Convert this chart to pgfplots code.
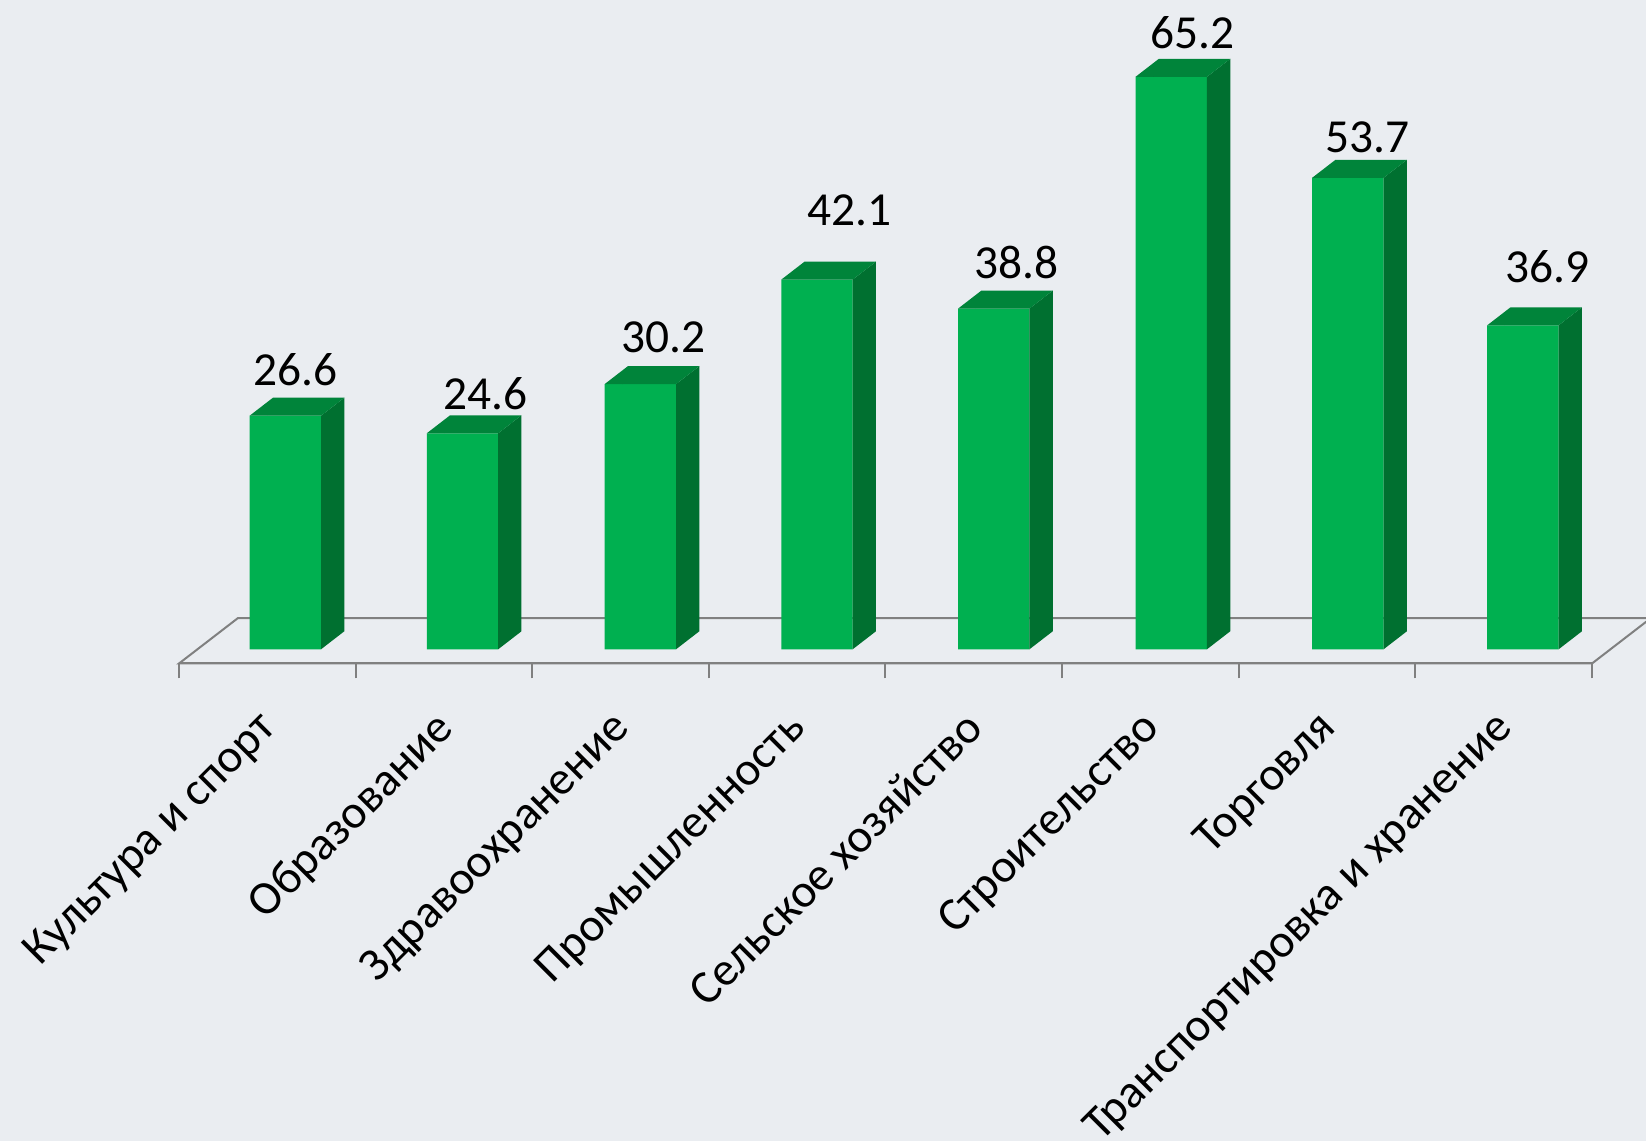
\documentclass[border=0pt]{standalone}
\usepackage{fontspec}
\setmainfont{Carlito}
\usepackage{pgfplots}
\usepackage{pgfplotstable}
\pgfplotsset{compat=1.18}
\definecolor{bgc}{HTML}{EAEDF1}
\definecolor{frontc}{HTML}{00B050}
\definecolor{sidec}{HTML}{007030}
\definecolor{topc}{HTML}{00843A}
\definecolor{linec}{HTML}{808080}
\pgfplotstableread{
x xb y lx ly
0 0.000 26.6 13.9 23.0
1 1.003 24.6 21.0 19.8
2 2.010 30.2 21.4 23.5
3 3.010 42.1 26.0 34.9
4 4.011 38.8 21.5 23.0
5 5.016 65.2 21.0 22.0
6 6.016 53.7 20.0 20.1
7 7.007 36.9 22.0 29.3
}\datatable
\begin{document}
\begin{tikzpicture}[x=1pt,y=1pt]
\path[use as bounding box] (0,0) rectangle (823,570.5);
\clip (0,0) rectangle (823,570.5);
\fill[bgc] (0,0) rectangle (823,570.5);
\begin{axis}[
  at={(89.5pt,238.75pt)}, anchor=south west,
  scale only axis, width=706.5pt, height=331.75pt,
  xmin=-0.5, xmax=7.5, ymin=-1.617, ymax=73.95,
  clip=false,
  axis x line*=bottom, axis y line=none,
  axis line style={linec, line width=1pt, -},
  xtick={-0.5,0.5,1.5,2.5,3.5,4.5,5.5,6.5,7.5},
  xticklabels={},
  tick align=outside, major tick length=7.5pt,
  tick style={linec, line width=1pt},
  extra x ticks={0,1,2,3,4,5,6,7},
  extra x tick labels={Культура и спорт,Образование,Здравоохранение,Промышленность,Сельское хозяйство,Строительство,Торговля,Транспортировка и хранение},
  extra x tick style={major tick length=0pt, tick style={draw=none},
    ticklabel style={rotate=45, anchor=north east, inner sep=0pt, font=\fontsize{23.6}{26}\selectfont, text=black, xshift=-19.6pt, yshift=-11.75pt}},
]
% floor
\addplot[fill=none, draw=linec, line width=1pt] coordinates {(-0.5,-1.617) (-0.166,3.56) (7.834,3.56) (7.5,-1.617)} -- cycle;
% side and top faces
\addplot[draw=none, mark=*, mark size=0pt, scatter, point meta=y,
  visualization depends on={\thisrow{y} \as \rawv},
  scatter/@pre marker code/.code={%
    \pgfmathsetmacro\hh{\rawv*4.39}%
    \begin{scope}
    \fill[sidec] (26.85pt,0pt) -- (38.5pt,9pt) -- (38.5pt,9pt-\hh pt) -- (26.85pt,-\hh pt) -- cycle;
    \fill[topc] (-8.85pt,0pt) -- (26.85pt,0pt) -- (38.5pt,9pt) -- (2.8pt,9pt) -- cycle;
  },
  scatter/@post marker code/.code={\end{scope}},
] table[x=xb,y=y] {\datatable};
% front faces
\addplot[ybar, bar width=35.7pt, bar shift=9pt, fill=frontc, draw=none] table[x=xb,y=y] {\datatable};
% data labels
\addplot[draw=none, mark=none, point meta=y,
  visualization depends on={\thisrow{lx} \as \labx},
  visualization depends on={\thisrow{ly} \as \laby},
  nodes near coords,
  nodes near coords align={center},
  every node near coord/.append style={xshift=\labx pt, yshift=\laby pt, anchor=center, inner sep=0pt,
    font=\fontsize{23.7}{26}\selectfont, text=black,
    /pgf/number format/.cd, fixed, fixed zerofill, precision=1, assume math mode=true},
] table[x=x,y=y] {\datatable};
\end{axis}
\end{tikzpicture}
\end{document}
